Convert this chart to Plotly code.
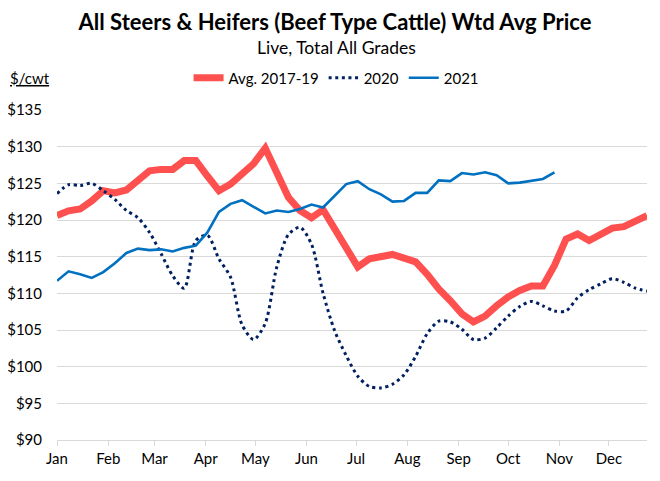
import pandas as pd
import plotly.graph_objects as go

# Weekly dates (week index -> date along the calendar axis)
week_dates = pd.date_range("2021-01-01", periods=52, freq="7D")

avg_2017_19 = [120.6, 121.25, 121.5, 122.6, 124.0, 123.7, 124.1, 125.3, 126.7, 126.9,
               126.9, 128.1, 128.1, 126.0, 124.0, 124.9, 126.3, 127.7, 129.8, 126.5,
               123.1, 121.3, 120.3, 121.4, 118.8, 116.0, 113.6, 114.7, 115.0, 115.3,
               114.8, 114.3, 112.6, 110.6, 109.0, 107.2, 106.1, 106.9, 108.3, 109.5,
               110.4, 111.0, 111.0, 113.8, 117.4, 118.1, 117.2, 118.1, 118.9, 119.1,
               119.8, 120.6]

y2020 = [123.6, 124.8, 124.7, 125.0, 124.0, 122.8, 121.3, 120.3, 118.3, 115.4,
         112.4, 110.7, 117.2, 117.9, 114.7, 112.2, 105.7, 103.7, 105.9, 113.6,
         118.0, 119.0, 116.7, 110.0, 104.9, 101.5, 98.7, 97.3, 97.1, 97.6,
         98.9, 101.4, 104.5, 106.2, 106.1, 105.1, 103.7, 103.9, 105.3, 106.9,
         108.2, 108.9, 108.3, 107.6, 107.6, 109.4, 110.5, 111.3, 112.0, 111.5,
         110.7, 110.3]

y2021 = [111.7, 113.0, 112.6, 112.1, 112.9, 114.1, 115.5, 116.1, 115.9, 116.0,
         115.7, 116.2, 116.5, 118.3, 121.1, 122.2, 122.7, 121.8, 120.9, 121.3,
         121.1, 121.5, 122.1, 121.7, 123.3, 124.9, 125.3, 124.2, 123.5, 122.5,
         122.6, 123.7, 123.7, 125.4, 125.3, 126.4, 126.2, 126.5, 126.1, 125.0,
         125.1, 125.3, 125.6, 126.5]

y_ticks = [90, 95, 100, 105, 110, 115, 120, 125, 130, 135]
y_tick_labels = ["$" + str(v) for v in y_ticks]

FONT = "Lato"
W, H = 652, 473  # page adds an 8px body margin

fig = go.Figure()
fig.add_trace(go.Scatter(
    x=week_dates, y=avg_2017_19, name="Avg. 2017-19", mode="lines",
    line=dict(color="#FF5050", width=7)))
fig.add_trace(go.Scatter(
    x=week_dates, y=y2020, name="2020", mode="lines",
    line=dict(color="#002060", width=3, dash="3px,3.6px", shape="spline", smoothing=0.8)))
fig.add_trace(go.Scatter(
    x=week_dates[:len(y2021)], y=y2021, name="2021", mode="lines",
    line=dict(color="#0070C0", width=2.6)))

fig.update_layout(
    width=W, height=H,
    margin=dict(l=49, r=13, t=102, b=41, autoexpand=False),
    paper_bgcolor="white", plot_bgcolor="white",
    font=dict(family=FONT, color="#000000", size=15),
    title=dict(text="<b>All Steers &amp; Heifers (Beef Type Cattle) Wtd Avg Price</b>",
               x=327 / W, xanchor="center", xref="container",
               y=1 - 14 / H, yanchor="middle", yref="container",
               font=dict(family=FONT, size=22, color="#000000")),
    showlegend=True,
    legend=dict(orientation="h", x=0.473, xanchor="center", y=1.097, yanchor="middle",
                font=dict(family=FONT, size=15, color="#000000"),
                itemwidth=30, tracegroupgap=0, bgcolor="rgba(0,0,0,0)"),
    annotations=[
        dict(text="Live, Total All Grades", xref="paper", yref="paper",
             x=0.473, y=(440 - 47) / 330, xanchor="center", yanchor="middle",
             showarrow=False, font=dict(family=FONT, size=17.5, color="#000000")),
        dict(text="<u>$/cwt</u>", xref="paper", yref="paper",
             x=(8 - 57) / 590, y=1.097, xanchor="left", yanchor="middle",
             showarrow=False, font=dict(family=FONT, size=15, color="#000000")),
    ],
)

fig.update_xaxes(
    type="date", range=["2021-01-01", "2021-12-24"],
    tick0="2021-01-01", dtick="M1", tickformat="%b",
    ticks="outside", ticklen=5, tickcolor="#D9D9D9", tickwidth=1,
    showline=True, linecolor="#D9D9D9", linewidth=1,
    showgrid=False, zeroline=False, automargin=False,
    tickfont=dict(family=FONT, size=15, color="#000000"),
)
fig.update_yaxes(
    range=[90, 135], tickvals=y_ticks, ticktext=y_tick_labels,
    showgrid=True, gridcolor="#D9D9D9", gridwidth=1,
    showline=False, zeroline=False, ticks="", automargin=False,
    ticklabelstandoff=14,
    tickfont=dict(family=FONT, size=15, color="#000000"),
)

fig.write_html("out.html")
